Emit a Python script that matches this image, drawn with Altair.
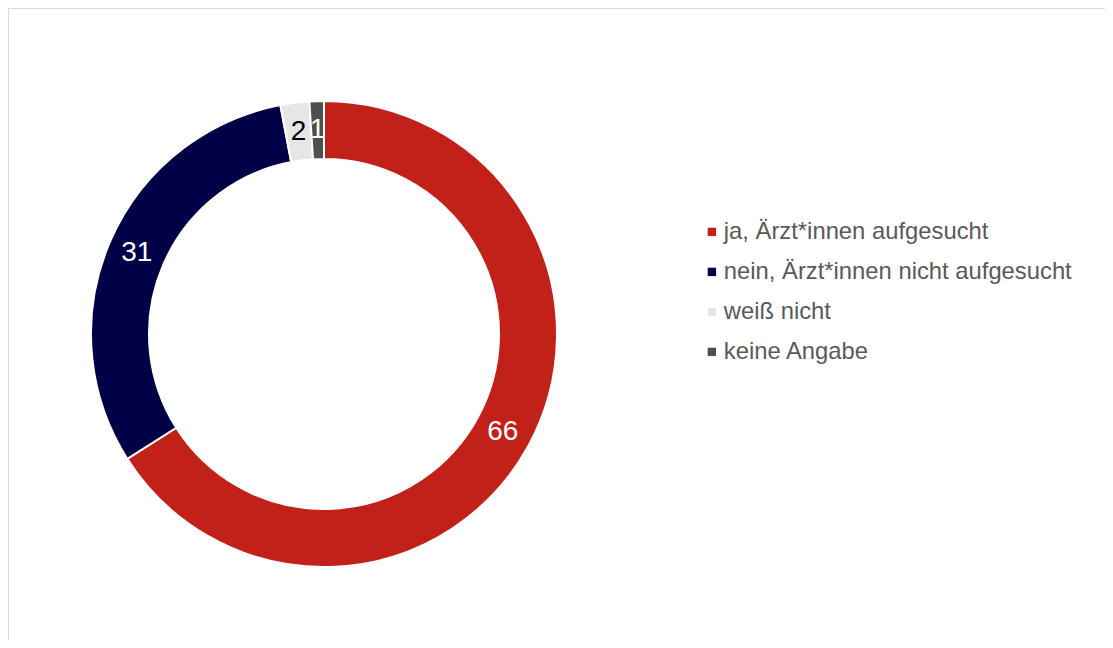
import altair as alt
import pandas as pd

categories = ["ja, Ärzt*innen aufgesucht", "nein, Ärzt*innen nicht aufgesucht", "weiß nicht", "keine Angabe"]
values = [66, 31, 2, 1]
colors = ["#C2211A", "#000046", "#E6E6E6", "#4F4F4F"]
label_colors = ["#FFFFFF", "#FFFFFF", "#000000", "#FFFFFF"]

df = pd.DataFrame({
    "cat": categories,
    "val": values,
    "idx": list(range(len(values))),
    "lc": label_colors,
})

FONT = "Liberation Sans"
W, H = 1097, 632
CX, CY = 316, 326

base = alt.Chart(df).encode(
    theta=alt.Theta("val:Q", stack=True),
    order=alt.Order("idx:Q"),
    x=alt.value(CX),
    y=alt.value(CY),
)

arcs = base.mark_arc(outerRadius=233, innerRadius=175, stroke="white", strokeWidth=2).encode(
    color=alt.Color(
        "cat:N",
        scale=alt.Scale(domain=categories, range=colors),
        sort=categories,
        legend=alt.Legend(
            title=None,
            orient="none",
            legendX=692,
            legendY=212,
            padding=0,
            symbolType="square",
            symbolSize=70,
            symbolStrokeWidth=0,
            labelFont=FONT,
            labelFontSize=23.8,
            labelColor="#595959",
            labelOffset=0,
            rowPadding=15,
            labelLimit=600,
        ),
    )
)

labels = base.mark_text(radius=204, font=FONT, fontSize=28, align="center", baseline="middle").encode(
    text=alt.Text("val:Q"),
    color=alt.Color("lc:N", scale=None),
)

frame_top = alt.Chart(df).mark_rule(color="#D9D9D9", strokeWidth=2).encode(
    x=alt.value(0), x2=alt.value(W), y=alt.value(0)
)
frame_left = alt.Chart(df).mark_rule(color="#D9D9D9", strokeWidth=2).encode(
    x=alt.value(0), y=alt.value(0), y2=alt.value(H)
)

chart = alt.layer(frame_top, frame_left, arcs, labels).resolve_scale(color="independent").properties(
    width=W, height=H, padding=0, autosize=alt.AutoSizeParams(type="none")
).configure_view(stroke=None)

chart.save("out.html", embed_options={"renderer": "svg", "actions": False})
